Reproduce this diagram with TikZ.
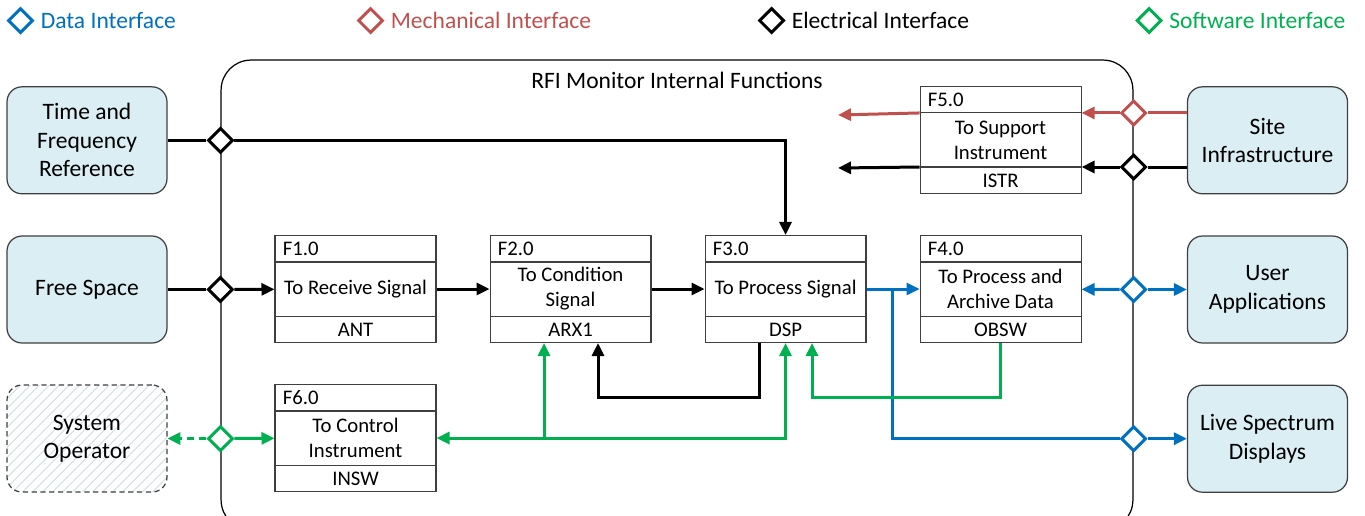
\documentclass[tikz,border=0pt]{standalone}
\usepackage{fontspec}
\setmainfont{Carlito}
\usetikzlibrary{arrows.meta, positioning, shapes.geometric, patterns.meta}

\definecolor{datablue}{HTML}{0070C0}
\definecolor{mechred}{HTML}{C0504D}
\definecolor{softgreen}{HTML}{00B050}
\definecolor{extfill}{HTML}{DAEEF3}
\definecolor{extdraw}{HTML}{3F3F3F}
\definecolor{hatchblue}{HTML}{C4D9E2}

\newcommand{\bigfont}{\fontsize{13.4}{16.2}\selectfont}
\newcommand{\blkfont}{\fontsize{11.8}{14.2}\selectfont}

\begin{document}
\begin{tikzpicture}[
    x=0.02cm, y=-0.02cm,
    node distance=0.82cm and 1.06cm,
    ext/.style={rectangle, draw=extdraw, line width=0.7pt, fill=extfill, rounded corners=0.3cm, minimum width=3.2cm, minimum height=2.14cm, align=center, font=\bigfont},
    func/.style={rectangle, draw=extdraw, line width=0.6pt, minimum width=3.22cm, minimum height=2.14cm, align=center, font=\blkfont},
    part/.style={inner sep=0pt, font=\blkfont},
    container/.style={rectangle, draw, line width=0.7pt, rounded corners=0.6cm, minimum width=18.24cm, minimum height=9.4cm},
    iface/.style={diamond, draw, fill=white, line width=0.06cm, inner sep=0pt, minimum width=0.5cm, minimum height=0.5cm},
    legtext/.style={font=\bigfont, inner sep=0pt, right=0.12cm of #1},
    link/.style={line width=0.06cm},
    arrow/.style={link, -{Triangle[length=0.26cm, width=0.24cm]}},
    twoway/.style={link, {Triangle[length=0.26cm, width=0.24cm]}-{Triangle[length=0.26cm, width=0.24cm]}}
]
\useasboundingbox (0,0) rectangle (1365,515);
\clip (0,0) rectangle (1365,515);

% Legend
\node[iface, draw=datablue] (legData) at (20.5,20.5) {};
\node[legtext=legData, text=datablue] (legDataTxt) {Data Interface};
\node[iface, draw=mechred] (legMech) at (370.5,20.5) {};
\node[legtext=legMech, text=mechred] (legMechTxt) {Mechanical Interface};
\node[iface, draw=black] (legElec) at (771.5,20.5) {};
\node[legtext=legElec] (legElecTxt) {Electrical Interface};
\node[iface, draw=softgreen] (legSoft) at (1149,20.5) {};
\node[legtext=legSoft, text=softgreen] (legSoftTxt) {Software Interface};

% Internal boundary
\node[container] (rfi) at (677,295) {};
\node[font=\bigfont] (title) at ([yshift=-0.41cm]rfi.north) {RFI Monitor Internal Functions};

% External entities
\node[ext] (fs) at (87,289.5) {Free Space};
\node[ext, above=of fs] (tfr) {Time and\\Frequency\\Reference};
\node[ext, below=of fs, fill=none, draw=extdraw, dash pattern=on 3pt off 2pt, pattern={Lines[angle=45, distance=4pt, line width=0.5pt]}, pattern color=hatchblue] (so) {System\\Operator};
\node[ext] (ua) at (1267.5,289.5) {User\\Applications};
\node[ext, above=of ua] (si) {Site\\Infrastructure};
\node[ext, below=of ua] (lsd) {Live Spectrum\\Displays};

% Function blocks
\node[func] (f1) at (355.5,289) {To Receive Signal};
\node[func, right=of f1] (f2) {To Condition\\Signal};
\node[func, right=of f2] (f3) {To Process Signal};
\node[func, right=of f3] (f4) {To Process and\\Archive Data};
\node[func, above=of f4] (f5) {To Support\\Instrument};
\node[func, below=of f1] (f6) {To Control\\Instrument};

\foreach \blk/\fid/\sys in {f1/F1.0/ANT, f2/F2.0/ARX1, f3/F3.0/DSP, f4/F4.0/OBSW, f5/F5.0/ISTR, f6/F6.0/INSW} {
    \coordinate (\blk-hl) at ([yshift=-0.54cm]\blk.north);
    \coordinate (\blk-fl) at ([yshift=0.54cm]\blk.south);
    \draw[extdraw, line width=0.6pt] (\blk-hl -| \blk.west) -- (\blk-hl -| \blk.east);
    \draw[extdraw, line width=0.6pt] (\blk-fl -| \blk.west) -- (\blk-fl -| \blk.east);
    \node[part, anchor=west] (\blk-id) at ([xshift=0.16cm, yshift=-0.27cm]\blk.north west) {\fid};
    \node[part] (\blk-sys) at ([yshift=0.27cm]\blk.south) {\sys};
}

% Interfaces on the boundary
\node[iface, draw=black] (dTime) at (rfi.west |- tfr) {};
\node[iface, draw=black] (dFree) at (rfi.west |- fs) {};
\node[iface, draw=softgreen] (dSw) at (rfi.west |- so) {};
\node[iface, draw=mechred] (dMech) at (rfi.east |- f5-hl) {};
\node[iface, draw=black] (dElec) at (rfi.east |- f5-fl) {};
\node[iface, draw=datablue] (dUser) at (rfi.east |- ua) {};
\node[iface, draw=datablue] (dLive) at (rfi.east |- lsd) {};

\coordinate (dspOut) at ([xshift=0.52cm]f3.east);
\coordinate (mechEnd) at (838,115);
\coordinate (elecEnd) at (838,168);
\coordinate (arxIn) at ([xshift=-0.53cm]f2.south);

% Signal chain
\draw[link] (tfr) -- (dTime);
\draw[arrow] (dTime) -| (f3);
\draw[link] (fs) -- (dFree);
\draw[arrow] (dFree) -- (f1);
\draw[arrow] (f1) -- (f2);
\draw[arrow] (f2) -- (f3);
\draw[arrow] ([xshift=-0.53cm]f3.south) -- ++(0,-1.08cm) -| ([xshift=0.55cm]f2.south);

% Data paths
\draw[arrow, datablue] (f3) -- (f4);
\draw[link, datablue] (dspOut) |- (dLive);
\draw[arrow, datablue] (dLive) -- (lsd);
\draw[arrow, datablue] (dUser) -- (f4);
\draw[arrow, datablue] (dUser) -- (ua);

% Site infrastructure
\draw[link, mechred] (si.west |- dMech) -- (dMech);
\draw[arrow, mechred] (dMech) -- (f5.east |- dMech);
\draw[arrow, mechred] (f5.west |- dMech) -- (mechEnd);
\draw[link] (si.west |- dElec) -- (dElec);
\draw[arrow] (dElec) -- (f5.east |- dElec);
\draw[arrow] (f5.west |- dElec) -- (elecEnd);

% Software control
\draw[twoway, softgreen] (f6) -| (f3);
\draw[arrow, softgreen] (arxIn |- f6) -- (arxIn);
\draw[arrow, softgreen] (f4.south) -- ++(0,-1.08cm) -| ([xshift=0.53cm]f3.south);
\draw[arrow, softgreen, dash pattern=on 4pt off 3pt] (dSw) -- (so);
\draw[arrow, softgreen] (dSw) -- (f6);

\end{tikzpicture}
\end{document}
